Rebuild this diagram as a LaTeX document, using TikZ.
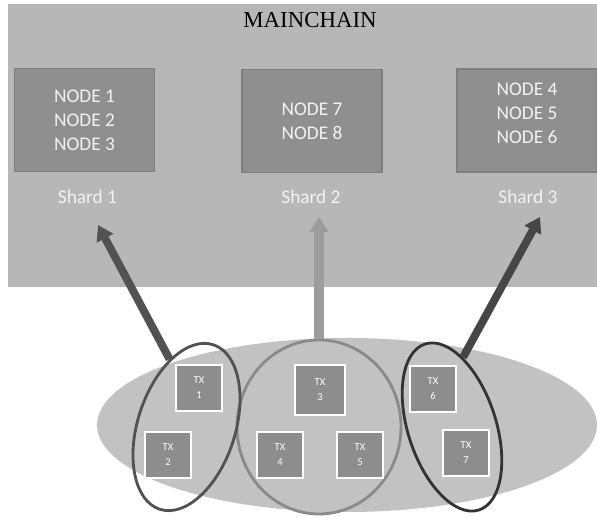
\documentclass[tikz,border=0pt]{standalone}
\usepackage{fontspec}
\setmainfont{Carlito}
\newfontfamily\titlefont{Liberation Serif}
\usetikzlibrary{arrows.meta,shapes.geometric}
\definecolor{bggray}{HTML}{B7B7B7}
\definecolor{boxgray}{HTML}{8F8F8F}
\definecolor{boxedge}{HTML}{7E7E7E}
\definecolor{poolgray}{HTML}{C2C2C2}
\definecolor{txgray}{HTML}{8D8D8D}
\definecolor{ringgray}{HTML}{8A8A8A}
\definecolor{darkgray}{HTML}{525252}
\definecolor{midgray}{HTML}{9C9C9C}
\definecolor{lblwhite}{HTML}{F2F2F2}
\begin{document}
\begin{tikzpicture}[
  >={Triangle[length=3mm,width=3.6mm]},
  shardbox/.style={rectangle,draw=boxedge,fill=boxgray,line width=0.6pt,minimum width=2.8cm,minimum height=2.06cm,align=center,text=lblwhite,font=\fontsize{11}{13.6}\selectfont},
  shardlbl/.style={text=lblwhite,font=\fontsize{11}{13}\selectfont},
  txbox/.style={rectangle,draw=white,fill=txgray,line width=1.4pt,minimum size=0.92cm,inner sep=0pt,align=center,text=white,font=\fontsize{6}{8.5}\selectfont},
  group/.style={ellipse,draw,line width=1.6pt,inner sep=0pt},
  link/.style={->,line width=4.5pt}
]
\useasboundingbox (0,0) rectangle (11.94,10.34);
\fill[bggray] (0.16,4.60) rectangle (11.94,10.26);
\node[font=\titlefont\fontsize{13}{15}\selectfont] (main) at (6.2,9.94) {MAINCHAIN};
\node[shardbox] (n1) at (1.69,7.94) {NODE 1\\NODE 2\\NODE 3};
\node[shardbox] (n2) at (6.24,7.92) {NODE 7\\NODE 8};
\node[shardbox] (n3) at (10.54,7.93) {NODE 4\\NODE 5\\NODE 6\\[-5.6pt]\mbox{}};
\node[shardlbl] (s1) at (1.75,6.40) {Shard 1};
\node[shardlbl] (s2) at (6.22,6.40) {Shard 2};
\node[shardlbl] (s3) at (10.56,6.40) {Shard 3};
% transaction pool
\node[ellipse,fill=poolgray,inner sep=0pt,minimum width=10cm,minimum height=3.48cm] (pool) at (6.94,1.84) {};
\node[group,draw=ringgray,fill=poolgray,minimum width=3.28cm,minimum height=3.48cm] (g2) at (6.38,1.80) {};
\node[group,draw=darkgray,minimum width=1.95cm,minimum height=3.46cm,rotate=-18] (g1) at (3.73,1.80) {};
\node[group,draw=black!80,minimum width=1.76cm,minimum height=3.49cm,rotate=18] (g3) at (9.04,1.80) {};
\node[txbox] (tx1) at (3.98,2.58) {TX\\1};
\node[txbox] (tx2) at (3.36,1.24) {TX\\2};
\node[txbox,minimum size=1cm] (tx3) at (6.40,2.54) {TX\\3};
\node[txbox] (tx4) at (5.60,1.24) {TX\\4};
\node[txbox] (tx5) at (7.20,1.24) {TX\\5};
\node[txbox] (tx6) at (8.66,2.56) {TX\\6};
\node[txbox] (tx7) at (9.32,1.28) {TX\\7};
\coordinate (t1) at (1.96,5.84);
\coordinate (t2) at (6.38,6.00);
\coordinate (t3) at (10.80,6.00);
\draw[link,draw=darkgray,fill=darkgray] (g1.122)--(t1);
\draw[link,draw=midgray,fill=midgray,line width=5.4pt] (g2.north)--(t2);
\draw[link,draw=darkgray!85!black,fill=darkgray!85!black] (g3.63)--(t3);
\end{tikzpicture}
\end{document}
